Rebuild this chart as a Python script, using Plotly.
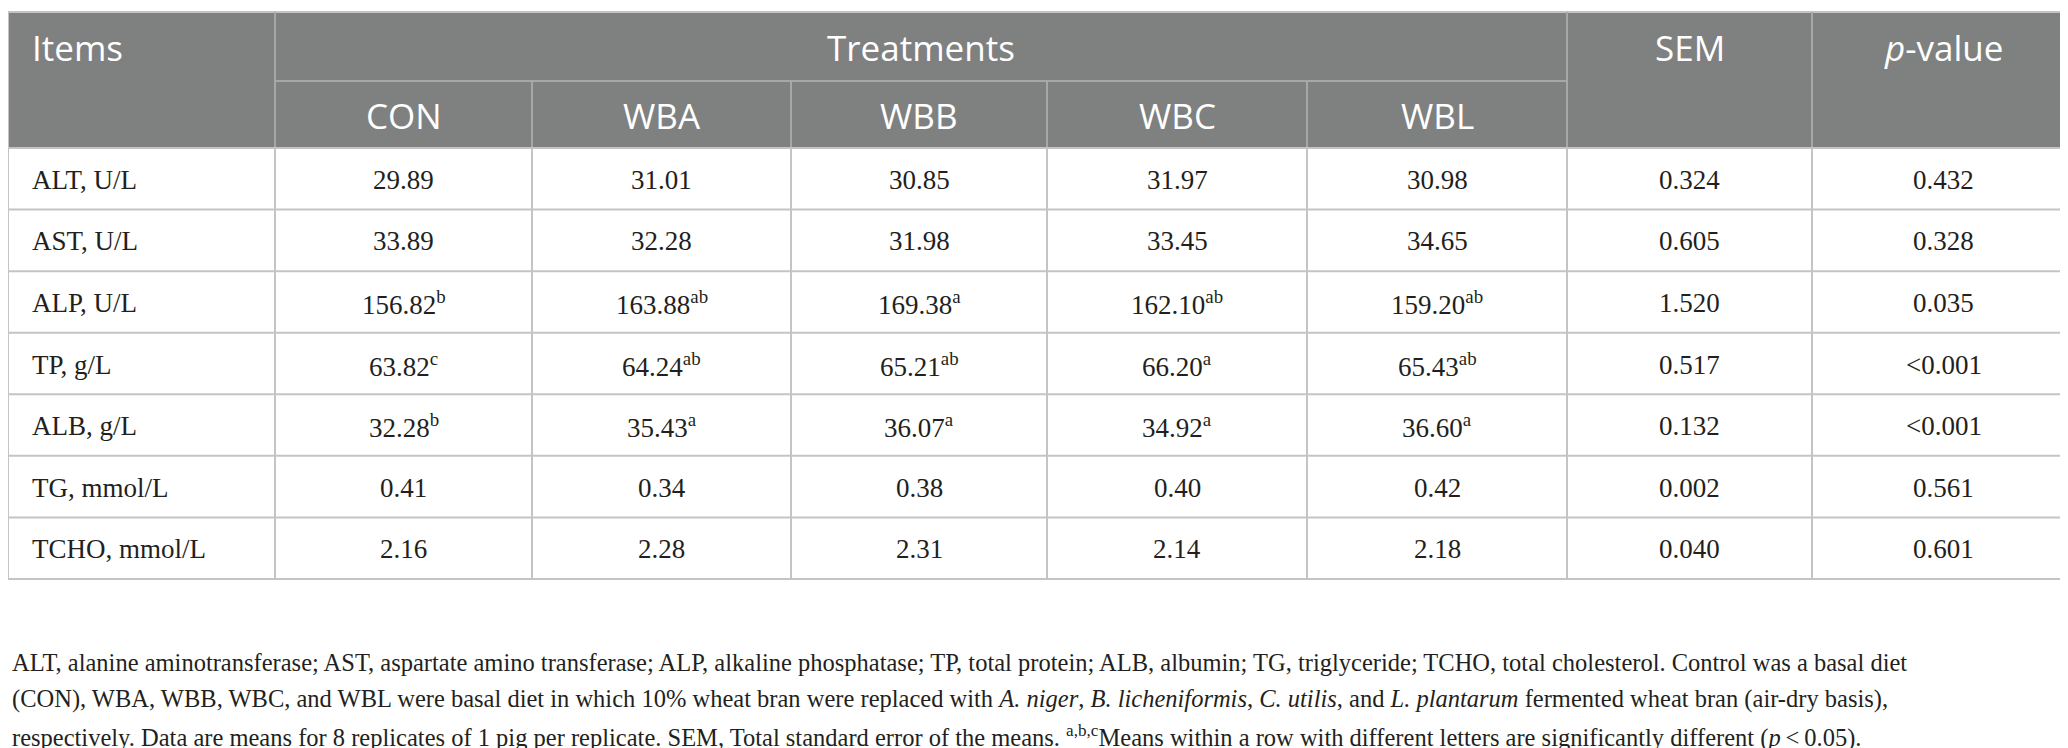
import plotly.graph_objects as go

# ---------------- data ----------------
items = ["ALT, U/L", "AST, U/L", "ALP, U/L", "TP, g/L", "ALB, g/L", "TG, mmol/L", "TCHO, mmol/L"]
treatments = ["CON", "WBA", "WBB", "WBC", "WBL"]

con_vals = [29.89, 33.89, 156.82, 63.82, 32.28, 0.41, 2.16]
con_sup = ["", "", "b", "c", "b", "", ""]
wba_vals = [31.01, 32.28, 163.88, 64.24, 35.43, 0.34, 2.28]
wba_sup = ["", "", "ab", "ab", "a", "", ""]
wbb_vals = [30.85, 31.98, 169.38, 65.21, 36.07, 0.38, 2.31]
wbb_sup = ["", "", "a", "ab", "a", "", ""]
wbc_vals = [31.97, 33.45, 162.10, 66.20, 34.92, 0.40, 2.14]
wbc_sup = ["", "", "ab", "a", "a", "", ""]
wbl_vals = [30.98, 34.65, 159.20, 65.43, 36.60, 0.42, 2.18]
wbl_sup = ["", "", "ab", "ab", "a", "", ""]

sem_vals = [0.324, 0.605, 1.520, 0.517, 0.132, 0.002, 0.040]
p_vals = ["0.432", "0.328", "0.035", "<0.001", "<0.001", "0.561", "0.601"]

footnote_lines = [
    "ALT, alanine aminotransferase; AST, aspartate amino transferase; ALP, alkaline phosphatase; TP, total protein; ALB, albumin; TG, triglyceride; TCHO, total cholesterol. Control was a basal diet",
    "(CON), WBA, WBB, WBC, and WBL were basal diet in which 10% wheat bran were replaced with <i>A. niger</i>, <i>B. licheniformis</i>, <i>C. utilis</i>, and <i>L. plantarum</i> fermented wheat bran (air-dry basis),",
    "respectively. Data are means for 8 replicates of 1 pig per replicate. SEM, Total standard error of the means. <sup>a,b,c</sup>Means within a row with different letters are significantly different (<i>p</i>\u2009<\u20090.05).",
]

# ---------------- layout constants ----------------
W, H = 2068, 748
col_edges = [0, 267, 524, 783, 1039, 1299, 1559, 1804, 2067]
y_top, y_mid, y_head = 4, 73, 140
y_bottom = 571
n_rows = len(items)
row_h = (y_bottom - y_head) / n_rows

HEAD_FILL = "#7f8180"
HEAD_LINE = "#a6a8a7"
BODY_LINE = "#c4c4c4"
TXT = "#231f20"
HEAD_FONT = "Open Sans"
BODY_FONT = "Liberation Serif"

fig = go.Figure()
fig.add_trace(go.Scatter(x=[0, W], y=[0, H], mode="markers", marker=dict(opacity=0), hoverinfo="skip", showlegend=False))

shapes = []
# header background
shapes.append(dict(type="rect", x0=col_edges[0], x1=col_edges[-1], y0=y_top, y1=y_head,
                   fillcolor=HEAD_FILL, line=dict(width=0), layer="below"))
# top border
shapes.append(dict(type="line", x0=col_edges[0], x1=col_edges[-1], y0=y_top, y1=y_top, line=dict(color=BODY_LINE, width=2)))
# header vertical lines
for i, xe in enumerate(col_edges):
    if i in (0, len(col_edges) - 1):
        continue
    if i in (1, 6, 7):
        shapes.append(dict(type="line", x0=xe, x1=xe, y0=y_top, y1=y_head, line=dict(color=HEAD_LINE, width=2)))
    else:
        shapes.append(dict(type="line", x0=xe, x1=xe, y0=y_mid, y1=y_head, line=dict(color=HEAD_LINE, width=2)))
# header divider under "Treatments"
shapes.append(dict(type="line", x0=col_edges[1], x1=col_edges[6], y0=y_mid, y1=y_mid, line=dict(color=HEAD_LINE, width=2)))
# body horizontal lines
for r in range(n_rows + 1):
    yy = y_head + r * row_h
    shapes.append(dict(type="line", x0=col_edges[0], x1=col_edges[-1], y0=yy, y1=yy, line=dict(color=BODY_LINE, width=2)))
# body vertical lines
for xe in col_edges:
    shapes.append(dict(type="line", x0=xe, x1=xe, y0=y_head, y1=y_bottom, line=dict(color=BODY_LINE, width=2)))
# outer left/right borders in header
shapes.append(dict(type="line", x0=col_edges[0], x1=col_edges[0], y0=y_top, y1=y_head, line=dict(color=BODY_LINE, width=2)))
shapes.append(dict(type="line", x0=col_edges[-1], x1=col_edges[-1], y0=y_top, y1=y_head, line=dict(color=BODY_LINE, width=2)))

ann = []
def cx(i):
    return (col_edges[i] + col_edges[i + 1]) / 2

head_font = dict(family=HEAD_FONT, size=35, color="white")
row1_c = (y_top + y_mid) / 2 + 1
row2_c = (y_mid + y_head) / 2 + 1
ann.append(dict(x=col_edges[0] + 22, y=row1_c, text="Items", xanchor="left", yanchor="middle", font=head_font))
ann.append(dict(x=(col_edges[1] + col_edges[6]) / 2, y=row1_c, text="Treatments", xanchor="center", yanchor="middle", font=head_font))
ann.append(dict(x=cx(6), y=row1_c, text="SEM", xanchor="center", yanchor="middle", font=head_font))
ann.append(dict(x=cx(7), y=row1_c, text="<i>p</i>-value", xanchor="center", yanchor="middle", font=head_font))
for j, t in enumerate(treatments):
    ann.append(dict(x=cx(j + 1), y=row2_c, text=t, xanchor="center", yanchor="middle", font=head_font))

body_font = dict(family=BODY_FONT, size=27, color=TXT)
cols = [(con_vals, con_sup), (wba_vals, wba_sup), (wbb_vals, wbb_sup), (wbc_vals, wbc_sup), (wbl_vals, wbl_sup)]
for r in range(n_rows):
    yc = y_head + (r + 0.5) * row_h + 1
    ann.append(dict(x=col_edges[0] + 22, y=yc, text=items[r], xanchor="left", yanchor="middle", font=body_font))
    for j, (vals, sups) in enumerate(cols):
        txt = f"{vals[r]:.2f}"
        if sups[r]:
            txt += f"<sup>{sups[r]}</sup>"
        ann.append(dict(x=cx(j + 1), y=yc, text=txt, xanchor="center", yanchor="middle", font=body_font))
    ann.append(dict(x=cx(6), y=yc, text=f"{sem_vals[r]:.3f}", xanchor="center", yanchor="middle", font=body_font))
    ann.append(dict(x=cx(7), y=yc, text=p_vals[r], xanchor="center", yanchor="middle", font=body_font))

foot_font = dict(family=BODY_FONT, size=24.5, color=TXT)
foot_y = [654, 691, 728]
for k, line in enumerate(footnote_lines):
    ann.append(dict(x=2, y=foot_y[k], text=line, xanchor="left", yanchor="middle", font=foot_font))

for a in ann:
    a.update(xref="x", yref="y", showarrow=False)

fig.update_layout(
    width=W, height=H,
    margin=dict(l=0, r=0, t=0, b=0),
    paper_bgcolor="white", plot_bgcolor="white",
    xaxis=dict(range=[0, W], visible=False, fixedrange=True),
    yaxis=dict(range=[H, 0], visible=False, fixedrange=True),
    shapes=shapes, annotations=ann, showlegend=False,
)
fig.write_html("out.html", config={"displayModeBar": False})
